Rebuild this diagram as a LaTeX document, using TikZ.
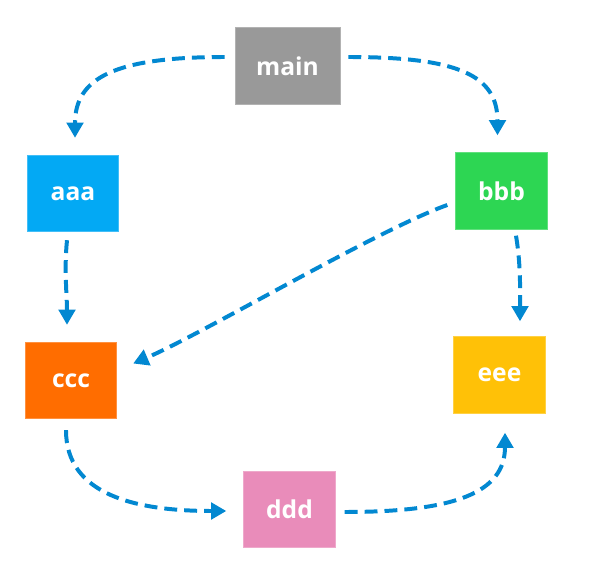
\documentclass[tikz,border=0pt]{standalone}
\usepackage{fontspec}
\setsansfont{Open Sans}
\usetikzlibrary{arrows.meta, calc}
\definecolor{maingray}{RGB}{153,153,153}
\definecolor{aaablue}{RGB}{3,169,244}
\definecolor{bbbgreen}{RGB}{45,214,83}
\definecolor{cccorange}{RGB}{255,109,0}
\definecolor{dddpink}{RGB}{233,140,186}
\definecolor{eeeyellow}{RGB}{255,193,7}
\definecolor{flowblue}{RGB}{2,136,209}
\tikzset{
    branch/.style={rectangle, draw=#1!75!white, line width=0.6pt, fill=#1, text=white, minimum width=2.75cm, minimum height=2.3cm, font=\sffamily\bfseries\fontsize{21}{25}\selectfont},
    flow/.style={-{Triangle[length=13pt, width=14pt]}, line width=3.4pt, flowblue, dash pattern=on 11pt off 6pt},
}
\begin{document}
\begin{tikzpicture}[x=0.03cm, y=-0.03cm]
    \useasboundingbox (0,0) rectangle (589,571);
    \node[branch=maingray, minimum width=3.15cm] (main) at (287.5,66) {main};
    \node[branch=aaablue] (aaa) at (73,193.5) {aaa};
    \node[branch=bbbgreen] (bbb) at (501.5,191) {bbb};
    \node[branch=cccorange] (ccc) at (71,380.5) {ccc};
    \node[branch=eeeyellow] (eee) at (499.5,375) {eee};
    \node[branch=dddpink] (ddd) at (289.5,509.5) {ddd};
    \draw[flow] ($(main.west)+(-10,-9)$) .. controls +(-110,0) and +(0,-60) .. ($(aaa.north)+(2,-17)$);
    \draw[flow] ($(main.east)+(8,-9)$) .. controls +(110,0) and +(0,-60) .. ($(bbb.north)+(-4,-17)$);
    \draw[flow] ($(aaa.south)+(-6,8)$) .. controls +(-3,30) and +(0,-30) .. ($(ccc.north)+(-4,-17)$);
    \draw[flow] ($(bbb.west)+(-8,14)$) .. controls +(-70,25) and +(70,-30) .. ($(ccc.east)+(16,-17)$);
    \draw[flow] ($(bbb.south)+(14.5,6)$) .. controls +(5,30) and +(0,-30) .. ($(eee.north)+(20.5,-15)$);
    \draw[flow] ($(ccc.south)+(-5,11)$) .. controls +(0,65) and +(-90,0) .. ($(ddd.west)+(-17,1.5)$);
    \draw[flow] ($(ddd.east)+(9,2.5)$) .. controls +(110,0) and +(0,60) .. ($(eee.south)+(5.5,19)$);
\end{tikzpicture}
\end{document}
